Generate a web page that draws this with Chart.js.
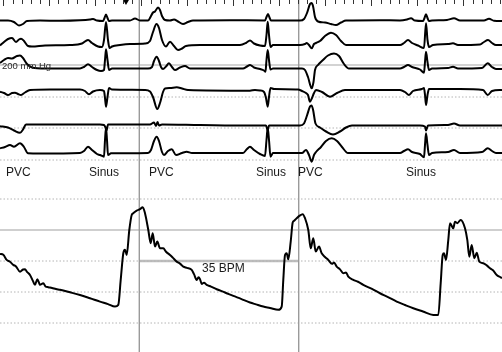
<!DOCTYPE html>
<html>
<head>
<meta charset="utf-8">
<script src="https://cdn.jsdelivr.net/npm/chart.js@4"></script>
<style>
  html,body{margin:0;padding:0;background:#fff;}
  #wrap{width:502px;height:352px;position:relative;}
</style>
</head>
<body>
<div id="wrap"><canvas id="c" width="502" height="352"></canvas></div>
<script>
// ---------------- DATA ----------------
// x = sample index (92 samples per second), ECG amplitudes in display units (up = positive)
const SAMPLE_RATE_HZ = 92;

const lead1 = [[0,0],[8,0],[14,-1.5],[19,-5],[23,-3.5],[27,-0.5],[40,0],[60,-0.3],[80,0.2],[90,1],[93,1.5],[97,0],[103,-0.5],[104.5,2.5],[106,6],[107.5,2.5],[109,-0.5],[112,0],[130,0],[135,2],[140,0],[148,0],[151,4.5],[153,8],[155,9],[158,13],[160,10.5],[162,4.5],[165,0.5],[170,0],[174,1],[178,-1],[183,-3.5],[188,-1.5],[193,0],[230,0.3],[265,0],[266.5,3.5],[268,6.5],[269.5,3],[271,0],[300,0],[304,1.5],[307,7.5],[310,16.5],[311.5,17.5],[313,14.5],[315,3.5],[318,-1],[325,-2],[331,-3.5],[336,-4.5],[341,-2],[346,0],[380,0.3],[400,0],[407,1],[411,2.2],[415,0],[423,-0.5],[424.5,2.5],[426,6.2],[427.5,2.5],[429,-0.5],[432,0],[447,0.5],[454,2.2],[460,0],[484,0],[489,1.8],[494,-0.3],[502,-0.5]];

const lead2 = [[0,-0.5],[4,3],[8,6],[12,7],[16,3],[19,5.5],[21,6.3],[24,4],[28,-1],[32,-1.5],[45,-0.5],[70,0],[82,1.5],[88,5],[92,2],[98,-1.5],[102,-2],[104,5],[106,23],[108,5],[109.5,-3],[112,-1.5],[120,0],[130,1],[145,1.5],[150,4],[153,13],[156.5,21],[159,17],[162,5],[166,-1.5],[170,3.3],[174,-1],[178,-5],[182,-3.5],[186,-1],[200,0],[240,0],[246,2],[250,4.5],[254,1.5],[260,-0.5],[265,-1],[266.5,10],[267.7,23.3],[269,10],[270.5,-2],[273,0],[300,0],[305,1],[306.7,2],[309,0],[311.7,-3.3],[314,1],[316,2],[320,4],[325,9],[331,12.3],[336,10],[341,4],[346,0],[400,0],[404,2],[408,5],[412,2],[418,-0.5],[424,-3],[426,21.7],[427.5,5],[429,-2],[433,0],[448,1],[453,1.7],[458,0],[480,0.5],[484,3],[488,5],[492,2],[496,0],[502,0]];

const lead3 = [[0,5.5],[4,8.5],[8,10.5],[12,10],[17,12.5],[20,13],[23,10.5],[27,4.5],[32,1],[45,0],[80,0],[84,1.5],[88,4.2],[92,1.5],[97,-1.5],[101,-2.5],[104,-1.5],[105,8.5],[106,19.2],[107.5,8.5],[109,-1.5],[112,0],[148,0],[152,1.5],[154,7.5],[156.7,11.8],[159,7.5],[161,1.5],[163,-0.5],[166,2],[169,5.2],[172,1.5],[175,-1.5],[180,1],[185,2.5],[190,0],[243,0],[247,2],[250,3.5],[254,1],[260,-0.5],[264,-2],[265.5,-3.2],[266.5,8.5],[267.7,18.5],[269,8.5],[270.5,-1],[273,0],[302,0],[305,-1.5],[308,-8.5],[311.7,-19.8],[313.5,-13.5],[315,-1.5],[318,3.5],[323,8.5],[328,13],[334,15],[339,12.5],[344,4.5],[349,0],[400,0],[404,1.5],[408,3.5],[412,1.5],[420,-1],[424,-4.2],[425,6.5],[426,16.8],[427.5,6.5],[429,-1.5],[432,0],[448,0.5],[453,1.8],[458,0],[482,0.5],[487.7,5.2],[492,1.5],[496,-0.5],[502,-0.5]];

const lead4 = [[0,-1.7],[4,-3],[8,-5],[12,-3],[15,-2.7],[18,-4],[21,-5],[25,-2.5],[30,0],[50,0.5],[80,0.5],[85,-1],[89,-4.3],[93,-1.5],[100,0],[104,-1],[105,-8],[106,-16.7],[107.5,-7],[109,2],[112,0.5],[145,0],[150,-1.5],[153,-7],[157.3,-19],[160,-13],[163,-2],[165,1.5],[170,2],[176.7,2.7],[182,1.5],[188,0],[250,-0.7],[255,0],[260,-0.5],[264,-2],[266,-8],[267.7,-16.7],[269,-7],[270.5,2],[274,1],[298,0.5],[302,-1],[306,-3],[308,-5],[310,-11.7],[312,-8],[314,-3],[316,0],[322,-2],[330,-6.7],[337,-3],[345,0],[400,0],[405,-2],[409,-5],[413,-1],[422,1],[424,2],[425,-5],[426,-15],[427.5,-5],[429,1],[433,1],[460,1],[483,0],[487.7,-5],[492,-1],[502,0]];

const lead5 = [[0,-1.2],[8,-2.5],[14,-5.5],[20,-7.8],[23,-4.5],[26,0.5],[40,0.5],[100,0.5],[104,0],[105.5,-2.5],[106.5,-5.5],[108,0.5],[150,0.5],[154,2.5],[156,-1],[157.5,3],[159,-0.5],[162,0.5],[200,0],[250,-0.5],[266,-0.5],[267.7,-5.5],[269,-0.5],[300,-0.5],[304,1.5],[307,9.5],[310,18.5],[311.5,19.5],[313,15.5],[315.5,1.5],[320,-2.5],[326,-6.5],[333,-9.5],[340,-6.5],[346,-2.5],[352,-0.5],[420,-0.5],[425,-1.5],[426,-5.5],[428,-0.5],[448,0],[454,1.5],[460,-0.5],[502,-0.5]];

const lead6 = [[0,4.7],[5,6],[10,8],[14,6.3],[20,9.7],[24,6],[28,-0.3],[40,-0.5],[80,0],[84,2],[88,6.3],[92,3],[97,-1],[100,-2],[104,-3.7],[105,13],[106,25.3],[107,13],[108,-2],[111,-0.3],[148,0],[151,3],[154,12],[156.7,16.3],[159,12],[162,1],[164,-2],[168,2],[171.7,3.7],[176,-2],[182,0],[186.7,1.3],[192,0],[243,0],[247,4],[250,6.3],[254,3],[260,-1],[265,-3],[266.5,13],[267.7,25],[269,13],[270.5,-3.7],[273,0],[302,0],[306,3],[309,-2],[311.7,-8.7],[314,-2],[316,1],[321,6],[326,12],[331.7,14.7],[337,12],[342,6],[348,0],[400,0],[404,2],[408,3.7],[412,1],[420,-1],[424,-4.3],[425,8],[426,19.7],[427.5,8],[429,-2],[432,0],[448,1],[454,3],[460,0],[482,1],[487.7,4.7],[492,2],[496,0],[502,0]];

// arterial pressure, mmHg
const pressure = [[0,84.6],[3.3,84],[6.7,80.7],[10,79.5],[13.3,77.5],[16,76.5],[20,73.1],[23,74.5],[25,74.7],[27,73],[30,71],[33,67],[35,64.6],[37.3,68.2],[39,66],[40,64.6],[43.3,65.7],[45.5,63.6],[48.3,63.1],[52,62.6],[56,61.9],[60,61.4],[70,59.8],[80,58.1],[90,56],[100,53.8],[108,52.2],[115,50.6],[118.3,51.7],[120.7,67.8],[123.3,85],[125,87.2],[126.7,83.9],[129.3,100],[131.7,109.7],[133.3,110.8],[136.7,112.5],[140,113.4],[142.7,114.7],[145,110.8],[148.3,100],[150.7,91.5],[152.7,97.9],[155,89.3],[157.3,92.5],[160,88.2],[163.3,88.2],[166,86],[170,83.9],[173,82],[176.7,79.6],[180,78.3],[183.3,76.4],[187,75.6],[191.7,74.25],[194,71.5],[196.7,67.8],[198.5,69.5],[200,68.3],[201.7,65.2],[204,66],[206.7,64.6],[211,63.5],[216.7,61.8],[225,59.7],[233.3,57.5],[241,55.6],[250,53.2],[256,52],[263.3,50.6],[270,49.7],[278.3,48.5],[281.7,50.6],[283.3,67.8],[285,83.9],[286.7,85],[288.3,81.1],[290.7,92.5],[292.7,104.8],[294.3,106.05],[296.7,107.6],[299.3,109.1],[302.7,110.2],[305,107.6],[308.3,100],[310.7,88.2],[313.3,94.7],[315.7,86.05],[319,89.3],[321.7,85],[325,82.6],[328.3,80.7],[332,78.2],[334,79],[336.7,76.4],[340,74.6],[343.3,72.1],[346,72.6],[348.3,69.9],[353.3,67.8],[358,66.6],[363.3,64.6],[372,62],[380,59.2],[388,56.7],[396.7,53.8],[405,51.6],[413.3,49.5],[423,47.4],[433.3,45.2],[438.3,45.2],[440.7,65.7],[442.7,83.9],[444,85],[446,80.7],[448.3,93.6],[450,104.4],[453.3,101.1],[455,105.4],[457.3,104.4],[460.7,106.5],[465,101.1],[467.3,93.6],[469.3,82.8],[471.7,90.4],[474.3,81.8],[476.7,85.4],[479.3,79.6],[483.3,78.6],[487,77],[490,75.3],[493,74],[496.7,71],[500.7,69.5],[502,69]];

// annotations
const beatLabels = ['PVC','Sinus','PVC','Sinus','PVC','Sinus'];
const beatLabelSamples = [6, 89, 149, 256, 298, 406];
const rateMarkerSamples = [139.3, 298.7];     // cursors bracketing one R-R interval
const rateLabel = '35 BPM';
const calibrationLabel = '200 mm Hg';
const pressureGridSolid = [100];
const pressureGridDotted = [120, 80, 60, 40];
const eventMarkerSample = 126;

// ---------------- LAYOUT ----------------
const ECG_RANGE = {min: 0, max: 352};
const LEAD_BASELINES = [331.5, 307, 283.5, 262, 227, 199];
const ECG_GUIDE_SOLID = [287];
const ECG_GUIDE_DOTTED = [255, 224, 192];
const PRESSURE_RANGE = {min: 100 - 122/1.55, max: 100 + 230/1.55};
const X_RANGE = {min: 0, max: 502};
const TICK_OFFSET = 3.3;
const tickTimesSec = [];
for (let i = 0; i <= 54; i++) tickTimesSec.push(i / 10);

const leads = [lead1, lead2, lead3, lead4, lead5, lead6];
const datasets = [];

leads.forEach((ld, i) => {
  datasets.push({
    label: 'Lead ' + (i + 1),
    yAxisID: 'yE',
    data: ld.map(p => ({x: p[0], y: LEAD_BASELINES[i] + p[1]})),
    borderColor: '#000', borderWidth: 2, pointRadius: 0,
    cubicInterpolationMode: 'monotone', order: 1
  });
});
datasets.push({
  label: 'Arterial pressure', yAxisID: 'yP',
  data: pressure.map(p => ({x: p[0], y: p[1]})),
  borderColor: '#000', borderWidth: 2, pointRadius: 0,
  cubicInterpolationMode: 'monotone', order: 1
});

function hLine(axis, v, color, width, dash, x0, x1) {
  datasets.push({
    yAxisID: axis,
    data: [{x: x0 === undefined ? X_RANGE.min : x0, y: v}, {x: x1 === undefined ? X_RANGE.max : x1, y: v}],
    borderColor: color, borderWidth: width, borderDash: dash || [], pointRadius: 0, order: 5
  });
}
ECG_GUIDE_SOLID.forEach(v => hLine('yE', v, '#a8a8a8', 1.2));
ECG_GUIDE_DOTTED.forEach(v => hLine('yE', v, '#b4b4b4', 1, [1.5, 2]));
pressureGridSolid.forEach(v => hLine('yP', v, '#a0a0a0', 1.2));
pressureGridDotted.forEach(v => hLine('yP', v, '#b4b4b4', 1, [1.5, 2]));
hLine('yP', 80, '#bdbdbd', 2.4, [], rateMarkerSamples[0], rateMarkerSamples[1]);
rateMarkerSamples.forEach(s => datasets.push({
  yAxisID: 'yE',
  data: [{x: s, y: ECG_RANGE.min}, {x: s, y: ECG_RANGE.max}],
  borderColor: '#9a9a9a', borderWidth: 1.4, pointRadius: 0, order: 4
}));
datasets.push({
  type: 'scatter', yAxisID: 'yE',
  data: [{x: eventMarkerSample, y: ECG_RANGE.max - 1.5}],
  pointStyle: 'triangle', rotation: 180, pointRadius: 3.6,
  backgroundColor: '#000', borderColor: '#000', borderWidth: 0, order: 0, clip: false
});

const overlay = {
  id: 'overlay',
  afterDatasetsDraw(chart) {
    const ctx = chart.ctx, x = chart.scales.x, yE = chart.scales.yE, yP = chart.scales.yP;
    ctx.save();
    // time ticks: every 0.1 s, long every 0.5 s
    ctx.strokeStyle = '#333'; ctx.lineWidth = 1;
    tickTimesSec.forEach((t, i) => {
      const px = Math.round(x.getPixelForValue(TICK_OFFSET + t * SAMPLE_RATE_HZ)) + 0.5;
      const len = (i % 5 === 0) ? 6 : 4;
      ctx.beginPath(); ctx.moveTo(px, 0); ctx.lineTo(px, len); ctx.stroke();
    });
    ctx.fillStyle = '#1a1a1a';
    ctx.textBaseline = 'alphabetic';
    ctx.font = '12px "Liberation Sans", Arial, sans-serif';
    const by = yE.getPixelForValue(175.7);
    beatLabels.forEach((t, i) => ctx.fillText(t, x.getPixelForValue(beatLabelSamples[i]), by));
    ctx.fillText(rateLabel, x.getPixelForValue(202), yP.getPixelForValue(72.6));
    ctx.fillStyle = '#2a2a2a';
    ctx.font = '9.5px "Liberation Sans", Arial, sans-serif';
    ctx.fillText(calibrationLabel, x.getPixelForValue(2), yE.getPixelForValue(282.6));
    ctx.restore();
  }
};

new Chart(document.getElementById('c'), {
  type: 'line',
  data: {datasets},
  options: {
    responsive: false, animation: false, devicePixelRatio: 1,
    layout: {padding: 0, autoPadding: false},
    plugins: {legend: {display: false}, tooltip: {enabled: false}},
    elements: {line: {fill: false}},
    scales: {
      x: {type: 'linear', min: X_RANGE.min, max: X_RANGE.max, display: false},
      yE: {type: 'linear', min: ECG_RANGE.min, max: ECG_RANGE.max, display: false},
      yP: {type: 'linear', min: PRESSURE_RANGE.min, max: PRESSURE_RANGE.max, display: false}
    }
  },
  plugins: [overlay]
});
</script>
</body>
</html>
